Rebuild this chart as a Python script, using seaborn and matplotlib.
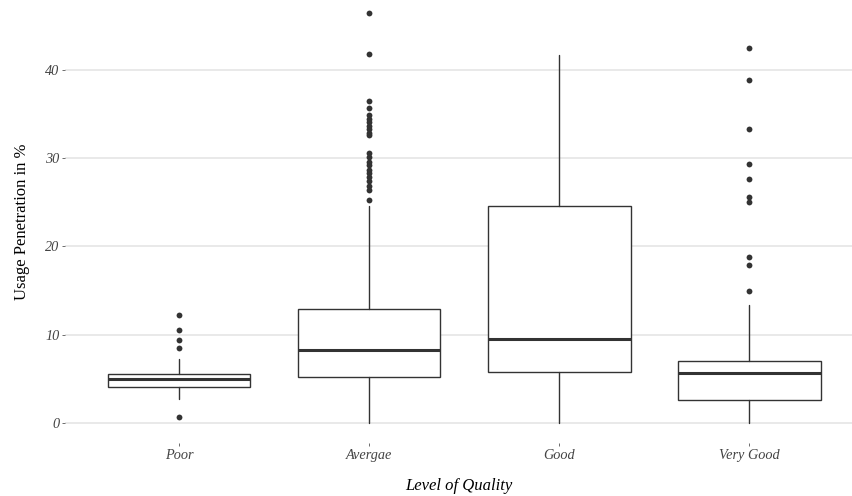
import pandas as pd
import matplotlib.pyplot as plt
import seaborn as sns

# Box statistics (Usage Penetration in %)
categories = ["Poor", "Avergae", "Good", "Very Good"]
q1 = [4.08, 5.2, 5.78, 2.57]
median = [5.0, 8.27, 9.55, 5.7]
q3 = [5.55, 12.95, 24.6, 7.03]
whisker_low = [2.7, 0.0, 0.0, 0.0]
whisker_high = [7.2, 24.6, 41.7, 13.35]

# Outlier points per category
outliers_poor = [12.2, 10.5, 9.4, 8.45, 0.7]
outliers_avg = [46.5, 41.8, 36.5, 35.7, 34.9, 34.5, 34.1, 33.7, 33.3, 32.9, 32.6,
                30.6, 30.1, 29.6, 29.2, 28.7, 28.3, 27.9, 27.4, 26.9, 26.4, 25.3]
outliers_good = []
outliers_vgood = [42.5, 38.9, 33.35, 29.4, 27.6, 25.6, 25.0, 18.85, 17.95, 14.9]

y_ticks = [0, 10, 20, 30, 40]

sns.set_theme(style="whitegrid")
plt.rcParams['font.family'] = ['Liberation Serif', 'DejaVu Serif']

fig = plt.figure(figsize=(8.52, 4.96), dpi=100)
ax = fig.add_axes([65 / 852, 53 / 496, 787 / 852, 443 / 496])

# Boxes
stats = []
for i, name in enumerate(categories):
    stats.append({
        "label": name, "q1": q1[i], "med": median[i], "q3": q3[i],
        "whislo": whisker_low[i], "whishi": whisker_high[i], "fliers": [],
    })
ax.bxp(stats, positions=range(len(categories)), widths=0.75, showcaps=False,
       showfliers=False, patch_artist=True,
       boxprops=dict(facecolor="white", edgecolor="#333333", linewidth=1.0),
       whiskerprops=dict(color="#333333", linewidth=1.0),
       medianprops=dict(color="#333333", linewidth=2.2, solid_capstyle="butt"))

# Outliers drawn with seaborn
out_df = pd.DataFrame({
    "quality": (["Poor"] * len(outliers_poor) + ["Avergae"] * len(outliers_avg)
                + ["Good"] * len(outliers_good) + ["Very Good"] * len(outliers_vgood)),
    "value": outliers_poor + outliers_avg + outliers_good + outliers_vgood,
})
sns.stripplot(data=out_df, x="quality", y="value", order=categories, jitter=False,
              color="#333333", size=4.2, linewidth=0, ax=ax, zorder=3)

ax.set_xlim(-0.6, 3.54)
ax.set_ylim(-2.27, 47.93)
ax.set_yticks(y_ticks)
ax.set_xticks(range(len(categories)))
ax.set_xticklabels(categories)

ax.grid(axis="x", visible=False)
ax.grid(axis="y", color="#e3e3e3", linewidth=1.1)
for s in ax.spines.values():
    s.set_visible(False)
ax.set_facecolor("white")

ax.tick_params(axis="both", which="major", bottom=True, left=True, length=2.5,
               width=0.6, color="#555555", labelcolor="#444444", labelsize=10.3, pad=1.5)
ax.tick_params(axis="x", pad=2)
for lab in ax.get_xticklabels() + ax.get_yticklabels():
    lab.set_fontstyle("italic")

ax.set_xlabel("Level of Quality", fontsize=12, fontstyle="italic", color="black", labelpad=11)
ax.set_ylabel("Usage Penetration in %", fontsize=12, color="black", labelpad=11)

fig.savefig("out.png", dpi=100)
